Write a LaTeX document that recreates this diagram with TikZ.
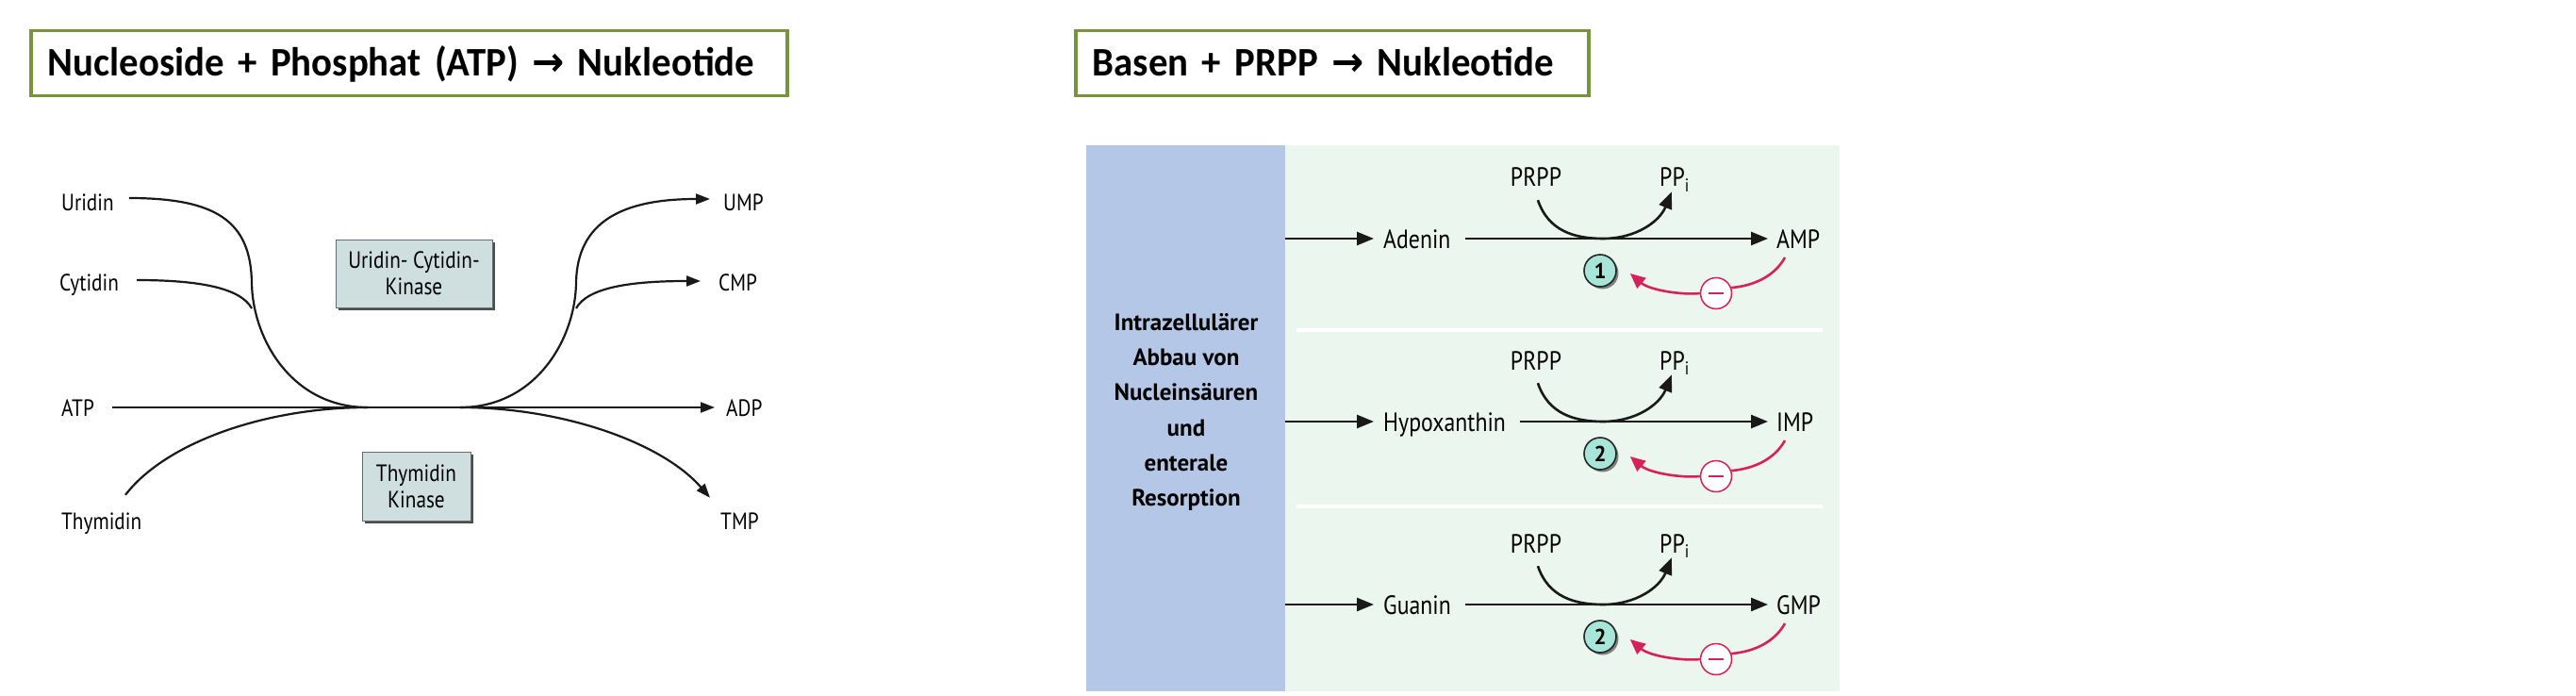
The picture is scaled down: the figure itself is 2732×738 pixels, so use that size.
\documentclass[tikz,border=0pt]{standalone}
\usepackage{fontspec}
\usetikzlibrary{arrows.meta,shadows}
\newfontfamily\titlefont[FakeStretch=0.95]{Carlito}
\newfontfamily\arrowfont[FakeStretch=0.95]{DejaVu Sans}
\newfontfamily\labfont[FakeStretch=0.85]{PT Sans}
\newfontfamily\boldlab{PT Sans}
\definecolor{titlegreen}{HTML}{77933C}
\definecolor{bluepanel}{HTML}{B4C7E7}
\definecolor{greenpanel}{HTML}{EAF6EE}
\definecolor{boxfill}{HTML}{CFDEDF}
\definecolor{boxborder}{HTML}{5F6F70}
\definecolor{mint}{HTML}{A7E5D8}
\definecolor{redc}{HTML}{D7215B}
\begin{document}
\begin{tikzpicture}[x=1pt,y=-1pt,
  titlebox/.style={draw=titlegreen, line width=3.5pt, fill=white, inner xsep=18pt, inner ysep=0pt,
    align=left, text height=27pt, text depth=0pt, anchor=north west,
    font=\titlefont\bfseries\fontsize{43}{50}\selectfont},
  llab/.style={font=\labfont\fontsize{25}{30}\selectfont, inner sep=0pt, anchor=west, text height=18pt, text depth=0pt},
  rlab/.style={font=\labfont\fontsize{28}{32}\selectfont, inner sep=0pt, anchor=west, text height=20pt, text depth=0pt},
  lline/.style={line width=2.2pt, draw=black!90},
  ltip/.style={-{Triangle[length=15pt,width=11pt]}},
  rline/.style={line width=2.6pt, draw=black!90},
  rtip/.style={-{Triangle[length=18pt,width=14pt]}},
  kinbox/.style={draw=boxborder, fill=boxfill, line width=1pt, align=center, inner sep=0pt,
    font=\labfont\fontsize{25}{28}\selectfont,
    drop shadow={shadow xshift=3pt, shadow yshift=-3pt, fill=black!70, opacity=1}},
  numc/.style={circle, minimum size=34pt, inner sep=0pt, fill=mint, draw=black!85, line width=1.6pt,
    font=\boldlab\bfseries\fontsize{23}{26}\selectfont,
    drop shadow={shadow xshift=2.5pt, shadow yshift=-2.5pt, fill=black!60, opacity=0.8}},
  inhc/.style={circle, minimum size=33pt, inner sep=0pt, fill=white, draw=redc, line width=1.5pt,
    path picture={\draw[redc, line width=2pt] ([xshift=-8pt]path picture bounding box.center) -- ([xshift=8pt]path picture bounding box.center);}},
  redline/.style={draw=redc, line width=2.6pt},
  redtip/.style={-{Triangle[length=16pt,width=14pt]}}
]
\fill[white] (0,0) rectangle (2732,738);
\useasboundingbox (0,0) rectangle (2732,738);

% titles
\node[titlebox, minimum width=802pt, minimum height=69pt, text width=766pt] (t1) at (31,31)
  {\mbox{Nucleoside + Phosphat (ATP) {\arrowfont →} Nukleotide}};
\node[titlebox, minimum width=544pt, minimum height=69pt, text width=508pt] (t2) at (1139,31)
  {\mbox{Basen + PRPP {\arrowfont →} Nukleotide}};

% ---------- left diagram ----------
\node[llab] (uridin) at (65,214) {Uridin};
\node[llab] (cytidin) at (63,299) {Cytidin};
\node[llab] (atp) at (65,432) {ATP};
\node[llab] (thymidin) at (65,552) {Thymidin};
\node[llab] (ump) at (767,214) {UMP};
\node[llab] (cmp) at (762,299) {CMP};
\node[llab] (adp) at (770,432) {ADP};
\node[llab] (tmp) at (764,552) {TMP};

\coordinate (mergeL) at (390,432);
\coordinate (mergeR) at (488,432);
\coordinate (joinL) at (267,327);
\coordinate (joinR) at (611,327);

\draw[lline, ltip] ([xshift=19pt]atp.east) -- ([xshift=-12pt]adp.west);
\draw[lline] ([xshift=16pt,yshift=4pt]uridin.east) .. controls (230,210) and (266,235) .. (267,300)
  .. controls (268,360) and (310,432) .. (mergeL);
\draw[lline] ([xshift=19pt,yshift=2pt]cytidin.east) .. controls (210,297) and (255,305) .. (joinL);
\draw[lline] ([xshift=68pt,yshift=18pt]thymidin.north west) .. controls (175,470) and (280,432) .. (mergeL);
\draw[lline, ltip] (mergeR) .. controls (568,432) and (610,360) .. (611,300)
  .. controls (612,235) and (660,211) .. ([xshift=-14pt,yshift=3pt]ump.west);
\draw[lline, ltip] (joinR) .. controls (623,305) and (668,298) .. ([xshift=-19pt,yshift=1pt]cmp.west);
\draw[lline, ltip] (mergeR) .. controls (598,432) and (703,470) .. ([xshift=-11pt,yshift=15pt]tmp.north west);

\node[kinbox, minimum width=166pt, minimum height=72pt] (uck) at (439,290) {Uridin- Cytidin-\\Kinase};
\node[kinbox, minimum width=115pt, minimum height=73pt] (tk) at (441.5,515.5) {Thymidin\\Kinase};

% ---------- right diagram ----------
\fill[bluepanel] (1152,154) rectangle (1363,733);
\fill[greenpanel] (1363,154) rectangle (1951,733);
\draw[white, line width=3.5pt] (1375,350) -- (1933,350);
\draw[white, line width=3.5pt] (1375,537) -- (1933,537);

\node[font=\boldlab\bfseries\fontsize{25}{37.3}\selectfont, align=center, inner sep=0pt] (src) at (1258,437)
  {Intrazellulärer\\Abbau von\\Nucleinsäuren\\und\\enterale\\Resorption};

\foreach \y/\nm/\pr/\nn/\i in {253/Adenin/AMP/1/a,447/Hypoxanthin/IMP/2/b,641/Guanin/GMP/2/c}{
  \coordinate (in\i) at (1363,\y);
  \node[rlab] (base\i) at (1467,\y) {\nm};
  \node[rlab] (prod\i) at (1884,\y) {\pr};
  \node[rlab, anchor=center] (prpp\i) at (1629,\y-65) {PRPP};
  \node[rlab] (ppi\i) at (1760,\y-65) {PP\textsubscript{i}};
  \draw[rline, rtip] (in\i) -- ([xshift=-10pt]base\i.west);
  \draw[rline, rtip] ([xshift=15pt]base\i.east) -- ([xshift=-9pt]prod\i.west);
  \draw[rline, rtip] ([xshift=2pt,yshift=-14pt]prpp\i.south) .. controls (1642,\y-8) and (1670,\y) .. (1700,\y)
     .. controls (1735,\y) and (1760,\y-18) .. ([xshift=13pt,yshift=-5pt]ppi\i.south west);
  \node[numc] (num\i) at (1697,\y+34) {\nn};
  \node[inhc] (inh\i) at (1820,\y+58) {};
  \coordinate (rs\i) at (1893,\y+20);
  \draw[redline] (rs\i) .. controls (1882,\y+40) and (1860,\y+50) .. (inh\i.20);
  \draw[redline, redtip] (inh\i.west) .. controls (1785,\y+60) and (1750,\y+55) .. ([xshift=14pt,yshift=-3pt]num\i.east);
}
\end{tikzpicture}
\end{document}
